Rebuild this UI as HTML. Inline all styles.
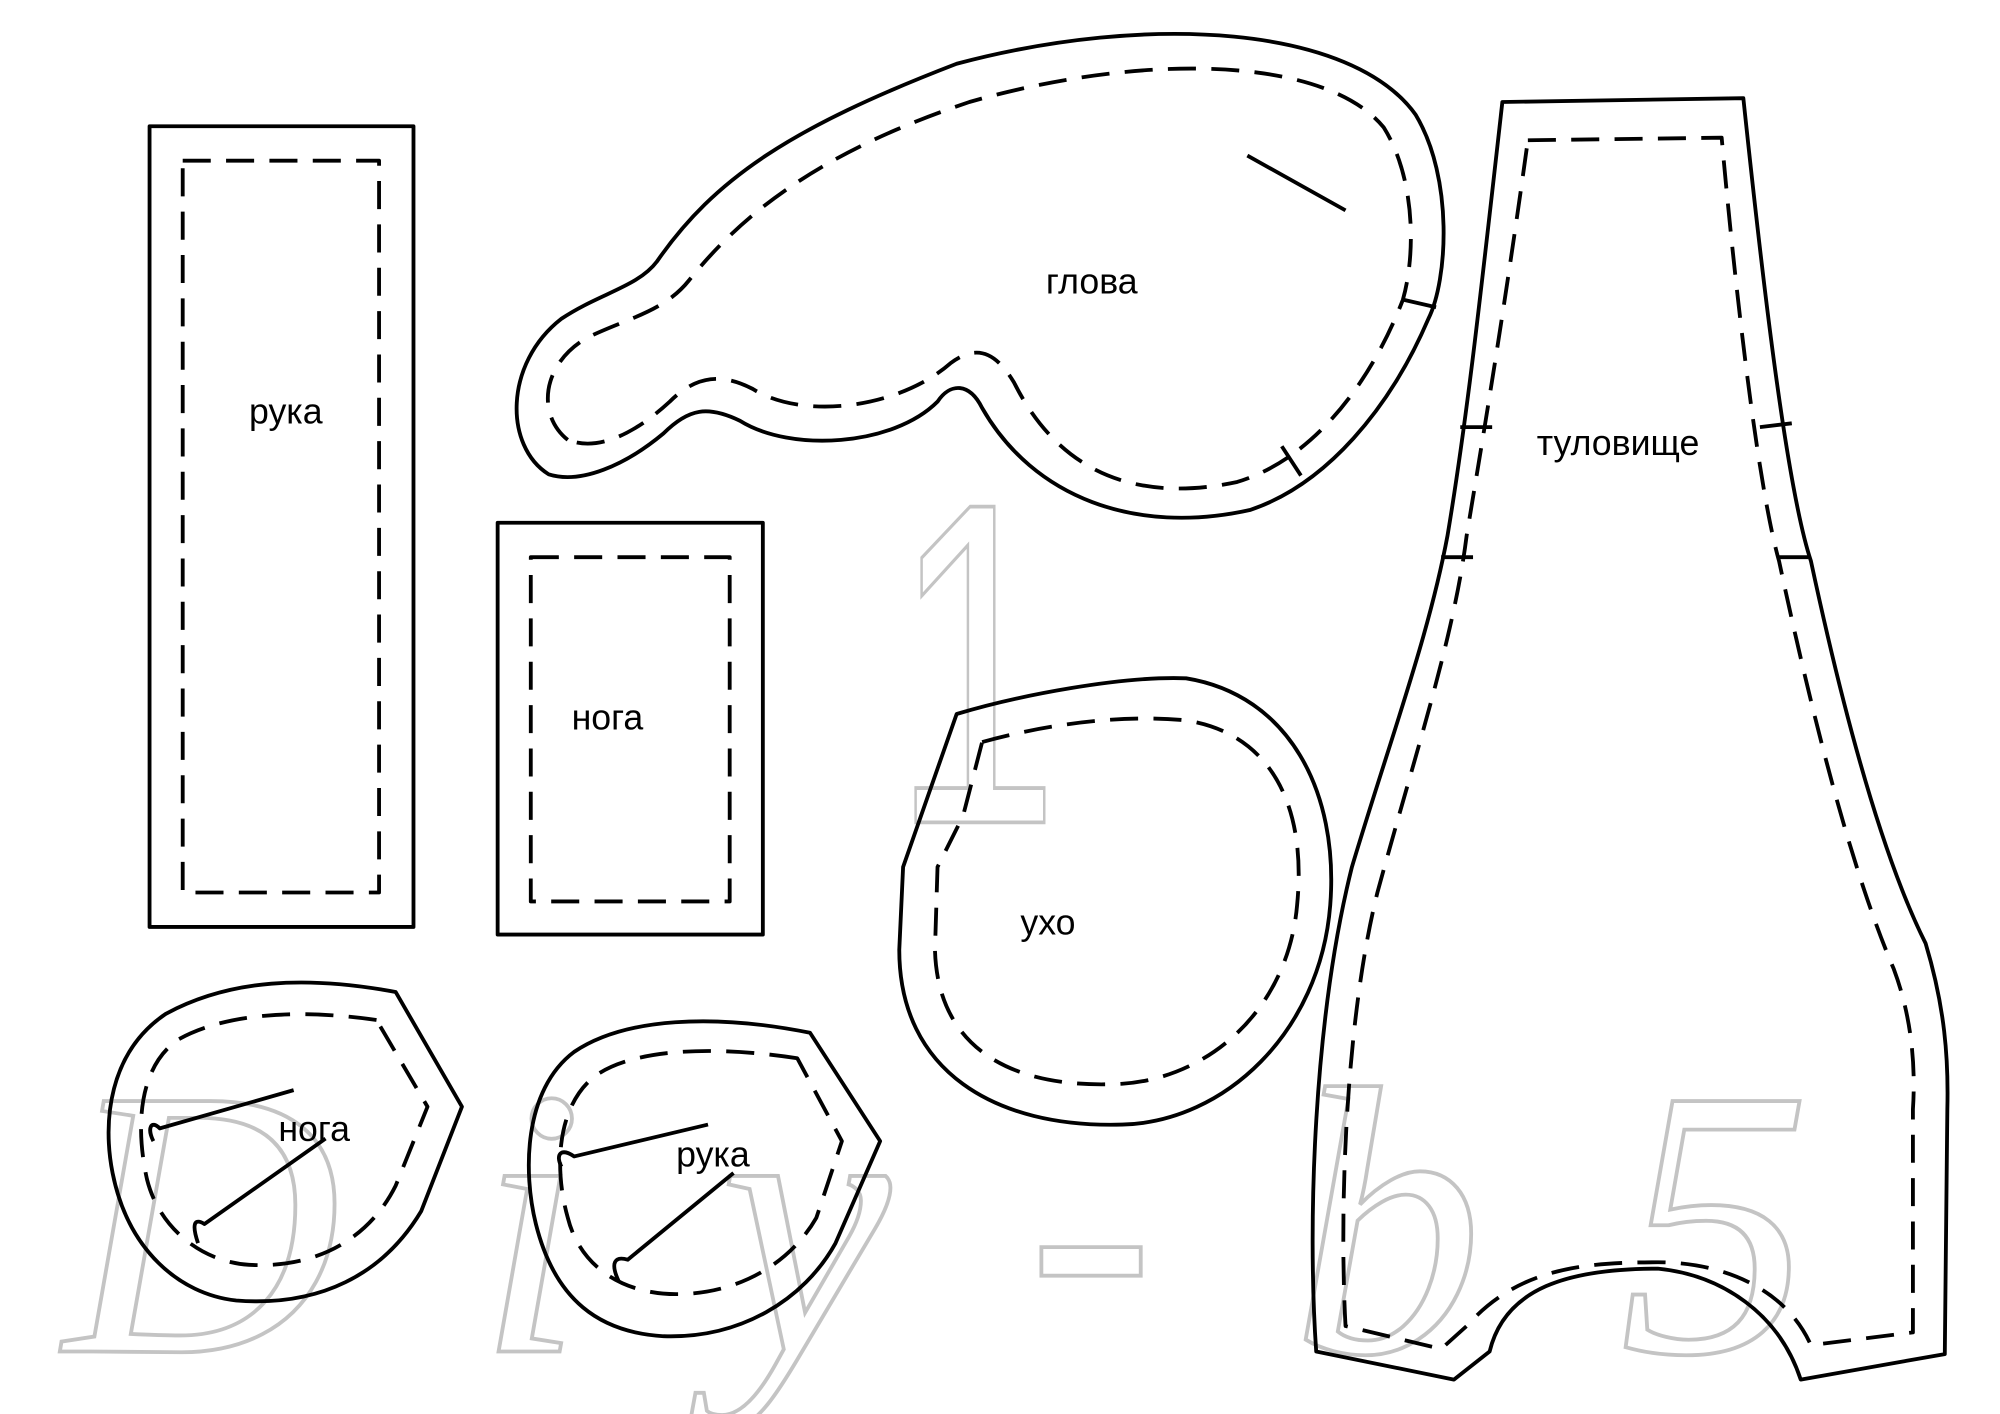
<!DOCTYPE html>
<html><head><meta charset="utf-8"><style>
html,body{margin:0;padding:0;background:#fff;}
svg{display:block}
text.l{font-family:"Liberation Sans",sans-serif;font-size:28px;fill:#000}
</style></head><body>
<svg width="2000" height="1414" viewBox="0 0 1568 1109" xmlns="http://www.w3.org/2000/svg">
<rect width="1568" height="1109" fill="#fff"/>
<!-- watermarks -->
<g fill="none" stroke="#c4c4c4" stroke-width="3">
<text transform="translate(700,645) scale(0.65,1)" x="0" y="0" font-family="Liberation Sans,sans-serif" font-size="360">1</text>
<text x="50" y="1060" font-family="Liberation Serif,serif" font-style="italic" font-size="300" textLength="1370" lengthAdjust="spacing">Diy-b5</text>
</g>
<g fill="none" stroke="#000" stroke-width="3" stroke-linejoin="round">
<!-- rectangles -->
<rect x="117" y="99" width="207" height="628"/>
<rect x="143" y="126" width="154" height="574" stroke-dasharray="22 12"/>
<rect x="390" y="410" width="208" height="323"/>
<rect x="416" y="437" width="156" height="270" stroke-dasharray="22 12"/>
<!-- head -->
<path d="M430,372 C395,350 395,285 440,250 C470,230 500,225 515,205 C560,140 620,100 750,50 C900,10 1060,20 1110,90 C1140,140 1135,220 1120,250 C1090,320 1040,380 980,400 C890,420 810,390 770,320 C760,300 745,300 735,315 C700,350 620,355 580,330 C555,318 540,320 520,340 C490,365 455,380 430,372 Z"/>
<path d="M445,345 C420,325 425,285 460,265 C490,250 520,245 540,220 C580,170 640,120 760,80 C900,40 1040,45 1085,100 C1110,140 1110,200 1100,235 C1075,300 1030,360 970,378 C890,395 830,370 795,300 C780,275 765,270 745,285 C705,320 630,330 590,305 C565,292 545,295 525,315 C500,338 470,355 445,345 Z" stroke-dasharray="22 12"/>
<line x1="978" y1="122" x2="1055" y2="165"/>
<line x1="1100" y1="235" x2="1126" y2="241"/>
<line x1="1005" y1="350" x2="1020" y2="373"/>
<!-- body -->
<path d="M1178,80 L1367,77 C1380,200 1400,380 1420,440 C1450,580 1480,680 1510,740 C1525,790 1528,830 1527,870 L1525,1062 L1412,1082 C1395,1030 1350,1000 1300,995 C1230,995 1180,1010 1168,1060 L1140,1082 L1032,1060 C1025,960 1030,800 1060,680 C1090,580 1120,500 1135,420 C1150,330 1160,240 1178,80 Z"/>
<path d="M1198,110 L1350,108 C1360,220 1378,380 1395,440 C1425,580 1455,690 1485,760 C1500,800 1502,840 1500,870 L1500,1045 L1420,1055 C1400,1010 1350,990 1300,990 C1240,990 1190,995 1150,1040 L1130,1058 L1055,1040 C1050,950 1055,800 1080,700 C1110,590 1140,500 1150,420 C1165,330 1180,240 1198,110 Z" stroke-dasharray="22 12"/>
<line x1="1145" y1="335" x2="1170" y2="335"/>
<line x1="1130" y1="437" x2="1155" y2="437"/>
<line x1="1380" y1="335" x2="1405" y2="332"/>
<line x1="1393" y1="437" x2="1418" y2="437"/>
<!-- ear -->
<path d="M750,560 C800,545 880,530 930,532 C1010,545 1050,620 1043,710 C1035,810 960,880 880,882 C780,885 705,840 705,745 L708,680 Z"/>
<path d="M770,582 C820,568 880,560 930,565 C995,575 1025,630 1017,710 C1010,790 950,845 880,850 C790,855 735,820 733,745 L735,680 L755,640 Z" stroke-dasharray="22 12"/>
<!-- small leg -->
<path d="M310,778 C240,765 180,768 130,795 C85,825 80,880 88,920 C100,980 140,1015 185,1020 C250,1025 300,1000 330,950 L362,868 Z"/>
<path d="M295,800 C240,792 180,793 140,815 C110,835 105,880 115,925 C125,965 160,990 195,992 C250,995 290,970 310,930 L335,868 Z" stroke-dasharray="22 12"/>
<path d="M120,895 C115,885 118,878 125,885 L230,855"/>
<path d="M155,975 C150,960 152,955 160,960 L255,893"/>
<!-- small arm -->
<path d="M635,810 C560,795 490,798 450,825 C410,855 410,920 420,960 C435,1020 470,1045 520,1048 C580,1050 630,1020 655,975 L690,895 Z"/>
<path d="M625,830 C560,820 495,822 465,845 C435,870 435,920 445,955 C455,995 490,1015 530,1015 C580,1015 620,990 640,955 L660,895 Z" stroke-dasharray="22 12"/>
<path d="M440,915 C435,905 440,900 450,907 L555,882"/>
<path d="M485,1005 C478,990 482,985 492,988 L575,920"/>
</g>
<text class="l" x="195" y="332">рука</text>
<text class="l" x="448" y="572">нога</text>
<text class="l" x="820" y="230">глова</text>
<text class="l" x="1205" y="357">туловище</text>
<text class="l" x="800" y="733">ухо</text>
<text class="l" x="218" y="895">нога</text>
<text class="l" x="530" y="915">рука</text>
</svg>
</body></html>
